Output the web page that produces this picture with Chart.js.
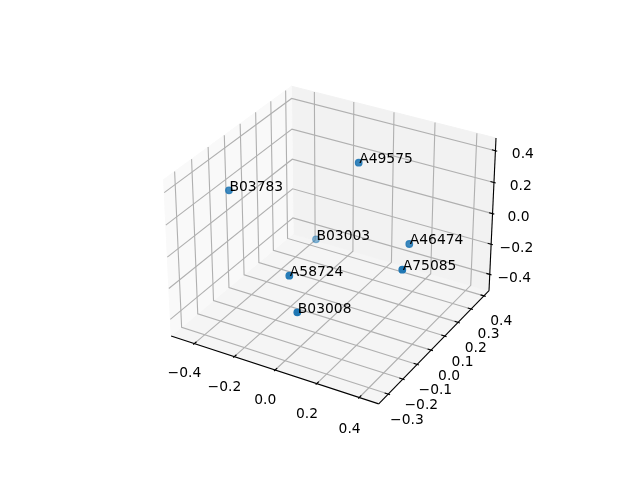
<!DOCTYPE html>
<html>
<head>
<meta charset="utf-8">
<style>html,body{margin:0;padding:0;background:#fff}canvas{display:block}</style>
<script src="https://cdn.jsdelivr.net/npm/chart.js@4"></script>
</head>
<body>
<canvas id="c" width="640" height="480"></canvas>
<script>
const sampleIds = ["B03003","B03008","A58724","A75085","A46474","A49575","B03783"];
const xValues = [-0.2234, 0.0459, -0.0391, 0.3759, 0.3068, 0.0559, -0.4047];
const yValues = [0.2078, -0.2789, -0.2153, -0.0462, 0.1055, 0.1126, -0.1184];
const zValues = [-0.2466, -0.1983, -0.0564, 0.0002, 0.0085, 0.4209, 0.2638];
const xTicks = [-0.4, -0.2, 0.0, 0.2, 0.4];
const yTicks = [-0.3, -0.2, -0.1, 0.0, 0.1, 0.2, 0.3, 0.4];
const zTicks = [-0.4, -0.2, 0.0, 0.2, 0.4];
const xLimits = [-0.518, 0.49];
const yLimits = [-0.364, 0.44];
const zLimits = [-0.51, 0.479];

// Camera of a matplotlib 3D axes: elev 30, azim -60, box aspect 4:4:3, dist 10
const ASPECT = [1.19048, 1.19048, 0.89286];
const U = [0.866025, 0.5, 0], V = [-0.25, 0.433013, 0.866025], W = [0.433013, -0.75, 0.5];
const SCALE = 1997.8, OX = 333, OY = 237.4, DIST = 10;
const lim = [xLimits, yLimits, zLimits];
const dot = (a, b) => a[0]*b[0] + a[1]*b[1] + a[2]*b[2];
function centred(p) {
  return p.map((v, i) => ((v - lim[i][0]) / (lim[i][1] - lim[i][0]) - 0.5) * ASPECT[i]);
}
function depth(p) { return dot(centred(p), W); }
function project(p) {
  const c = centred(p), k = DIST - dot(c, W);
  return { x: OX + SCALE * dot(c, U) / k, y: OY - SCALE * dot(c, V) / k };
}

const [x0, x1] = xLimits, [y0, y1] = yLimits, [z0, z1] = zLimits;
const dx = (x1 - x0) / 12, dy = (y1 - y0) / 12, dz = (z1 - z0) / 12;
const LABEL_SHIFT = 1.037, LABEL_DROP = 7.4;
const INNER = 0.2, OUTER = 0.1;

const path = pts => pts.map(project);
const datasets = [];
function line(pts, color, width, order, extra) {
  datasets.push(Object.assign({ data: path(pts), showLine: true, pointRadius: 0, pointHoverRadius: 0,
    borderColor: color, borderWidth: width, fill: false, tension: 0, order, clip: false,
    borderCapStyle: 'butt', borderJoinStyle: 'miter' }, extra || {}));
}
function pane(pts, color) {
  line(pts.concat([pts[0]]), color, 1, 4, { fill: 'shape', backgroundColor: color });
}
pane([[x0,y0,z0],[x0,y1,z0],[x0,y1,z1],[x0,y0,z1]], 'rgb(249,249,249)');
pane([[x0,y1,z0],[x1,y1,z0],[x1,y1,z1],[x0,y1,z1]], 'rgb(242,242,242)');
pane([[x0,y0,z0],[x1,y0,z0],[x1,y1,z0],[x0,y1,z0]], 'rgb(245,245,245)');

const GRID = '#b0b0b0', BLACK = '#000';
xTicks.forEach(t => line([[t,y0,z0],[t,y1,z0],[t,y1,z1]], GRID, 1.11, 3));
yTicks.forEach(t => line([[x1,t,z0],[x0,t,z0],[x0,t,z1]], GRID, 1.11, 3));
zTicks.forEach(t => line([[x0,y0,t],[x0,y1,t],[x1,y1,t]], GRID, 1.11, 3));

line([[x0,y0,z0],[x1,y0,z0]], BLACK, 1.11, 2);
line([[x1,y0,z0],[x1,y1,z0]], BLACK, 1.11, 2);
line([[x1,y1,z0],[x1,y1,z1]], BLACK, 1.11, 2);
xTicks.forEach(t => line([[t,y0+INNER*dy,z0],[t,y0-OUTER*dy,z0]], BLACK, 1.11, 2));
yTicks.forEach(t => line([[x1-INNER*dx,t,z0],[x1+OUTER*dx,t,z0]], BLACK, 1.11, 2));
zTicks.forEach(t => line([[x1-INNER*dx,y1,t],[x1+OUTER*dx,y1,t]], BLACK, 1.11, 2));

const pts3 = sampleIds.map((_, i) => [xValues[i], yValues[i], zValues[i]]);
const ds = pts3.map(depth), dMax = Math.max(...ds), dMin = Math.min(...ds);
const colors = ds.map(d => `rgba(31,119,180,${(1 - 0.5 * (dMax - d) / (dMax - dMin)).toFixed(3)})`);
datasets.push({ data: path(pts3), showLine: false, pointRadius: 3.3, pointHoverRadius: 3.3,
  pointBorderWidth: 1.2, pointBackgroundColor: colors, pointBorderColor: colors, order: 1, clip: false });

const fmt = t => t.toFixed(1).replace('-', '\u2212');
const FONT = '13.89px "DejaVu Sans"';
const textPlugin = {
  id: 'axes3dText',
  afterDraw(chart) {
    const { ctx, scales } = chart;
    const put = (s, p, align, base, nudgeX, nudgeY) => {
      ctx.textAlign = align; ctx.textBaseline = base;
      ctx.fillText(s, scales.x.getPixelForValue(p.x) + nudgeX, scales.y.getPixelForValue(p.y) + nudgeY);
    };
    ctx.save();
    ctx.font = FONT; ctx.fillStyle = '#000';
    const s = LABEL_SHIFT;
    xTicks.forEach(t => put(fmt(t), project([t, y0 - s*dy, z0 - s*dz]), 'center', 'middle', 1, LABEL_DROP));
    yTicks.forEach(t => put(fmt(t), project([x1 + s*dx, t, z0 - s*dz]), 'center', 'middle', 0, LABEL_DROP));
    zTicks.forEach(t => put(fmt(t), project([x1 + s*dx, y1 + s*dy, t]), 'center', 'middle', (t - 0.4) * 2.5, LABEL_DROP));
    sampleIds.forEach((id, i) => put(id, project(pts3[i]), 'left', 'alphabetic', 0.5, 0.5));
    ctx.restore();
  }
};

new Chart(document.getElementById('c'), {
  type: 'scatter',
  data: { datasets },
  options: {
    responsive: false, animation: false, events: [],
    layout: { padding: 0, autoPadding: false },
    plugins: { legend: { display: false }, title: { display: false }, tooltip: { enabled: false } },
    scales: {
      x: { type: 'linear', min: 0, max: 640, display: false },
      y: { type: 'linear', min: 0, max: 480, reverse: true, display: false }
    }
  },
  plugins: [textPlugin]
});
</script>
</body>
</html>
